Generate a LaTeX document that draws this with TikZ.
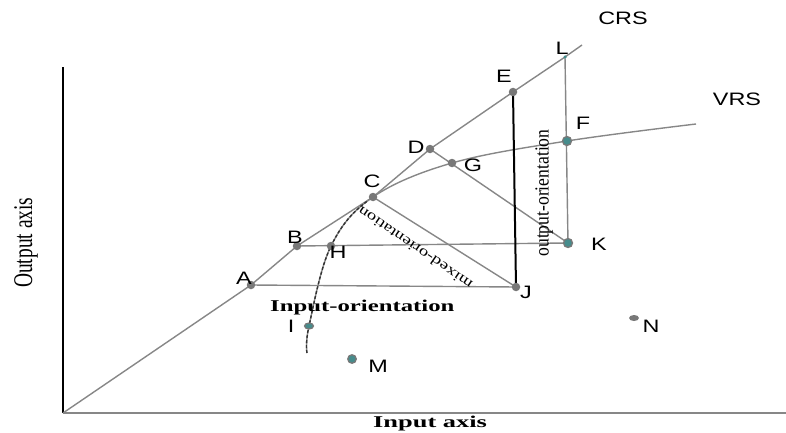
\documentclass[tikz,border=0pt]{standalone}
\usepackage{fontspec}
\setmainfont{Liberation Serif}
\newfontfamily\lblfont[FakeStretch=1.3]{Liberation Sans}
\usetikzlibrary{shapes.geometric}
\definecolor{lgray}{RGB}{135,135,135}
\definecolor{dgray}{RGB}{120,120,120}
\definecolor{dteal}{RGB}{70,140,140}
\begin{document}
\begin{tikzpicture}[x=1pt,y=-1pt,
  ln/.style={draw=lgray,line width=1.4pt},
  pt/.style={circle,fill=dgray,inner sep=0pt,minimum size=8.5pt},
  ring/.style={circle,draw=dgray,fill=dteal,line width=1.3pt,inner sep=0pt,minimum size=8.5pt},
  lbl/.style={font={\lblfont\fontsize{18}{18}\selectfont},inner sep=0pt},
  captxt/.style={font={\fontsize{16.5}{16.5}\selectfont\bfseries},inner sep=0pt,anchor=base west}]
\useasboundingbox (0,0) rectangle (786,433);
\coordinate (O) at (63,413);
\coordinate (ytop) at (63,67);
\coordinate (xend) at (786,413);
\coordinate (A) at (251,285);
\coordinate (B) at (297,246);
\coordinate (C) at (373,197);
\coordinate (D) at (430,149);
\coordinate (E) at (513,92);
\coordinate (L) at (565,57);
\coordinate (crs) at (582,45);
\coordinate (H) at (331,246);
\coordinate (G) at (452,163);
\coordinate (F) at (567,141);
\coordinate (vrs) at (696,124);
\coordinate (v0) at (307,353);
\coordinate (I) at (309,326);
\coordinate (J) at (516,287);
\coordinate (K) at (568,243);
\coordinate (M) at (352,359);
\coordinate (N) at (634,318);
\draw[line width=2.4pt] (O) -- (ytop);
\draw[ln,line width=1.6pt] (O) -- (xend);
\draw[ln] (O) -- (A) -- (B) -- (C) -- (D) -- (E) -- (L) -- (crs);
\draw[ln] plot[smooth,tension=0.6] coordinates {(v0) (I) (H) (C) (G) (F) (vrs)};
\begin{scope}
\clip (0,0) rectangle (368,433);
\draw[black!80,line width=1.4pt,densely dashed] plot[smooth,tension=0.6] coordinates {(v0) (I) (H) (C) (G) (F) (vrs)};
\end{scope}
\draw[ln] (A) -- (J);
\draw[ln] (B) -- (K);
\draw[ln] (C) -- (J);
\draw[ln] (D) -- (K);
\draw[ln] (L) -- (K);
\draw[line width=2pt] (E) -- (J);
\foreach \p in {A,B,H,C,D,G,E,J} \node[pt] at (\p) {};
\node[circle,fill=dteal,inner sep=0pt,minimum size=3.5pt] at (L) {};
\node[ring,minimum size=9pt] at (F) {};
\node[ring,minimum size=9pt] at (K) {};
\node[ring] at (M) {};
\node[ellipse,draw=dgray,fill=dteal,line width=1.2pt,inner sep=0pt,minimum width=9pt,minimum height=6pt] at (I) {};
\node[ellipse,fill=dgray,inner sep=0pt,minimum width=10pt,minimum height=6pt] at (N) {};
\node[lbl] (tcrs) at (623,18) {CRS};
\node[lbl] (tvrs) at (737,99) {VRS};
\node[lbl] (tL) at (562,48) {L};
\node[lbl] (tE) at (504,76) {E};
\node[lbl] (tF) at (583,123) {F};
\node[lbl] (tD) at (416,147) {D};
\node[lbl] (tG) at (473,165) {G};
\node[lbl] (tC) at (372,181) {C};
\node[lbl] (tB) at (295,237) {B};
\node[lbl] (tH) at (338,252) {H};
\node[lbl] (tA) at (244,278) {A};
\node[lbl] (tJ) at (526,292) {J};
\node[lbl] (tK) at (599,244) {K};
\node[lbl] (tI) at (291,326) {I};
\node[lbl] (tM) at (378,366) {M};
\node[lbl] (tN) at (651,326) {N};
\node[captxt] (inori) at (270,311) {\scalebox{1.5}[1]{Input-orientation}};
\node[captxt] (xlab) at (373,427) {\scalebox{1.6}[1]{Input axis}};
\node[inner sep=0pt,anchor=base west,rotate=90,font={\fontsize{27}{27}\selectfont}] (ylab) at (32,288) {\scalebox{0.72}[1]{Output axis}};
\node[inner sep=0pt,rotate=145.5,font={\fontsize{14}{14}\selectfont}] (mixori) at (415,248) {\scalebox{1.35}[1]{mixed-orientation}};
\node[inner sep=0pt,rotate=90,font={\fontsize{20}{20}\selectfont}] (outori) at (544,193) {\scalebox{0.88}[1]{output-orientation}};
\end{tikzpicture}
\end{document}
